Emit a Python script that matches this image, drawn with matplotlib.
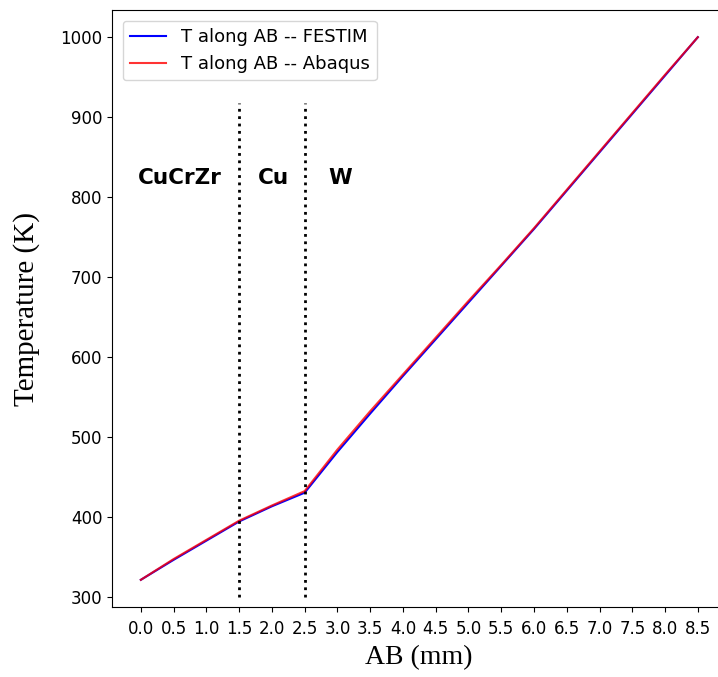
import numpy as np
import matplotlib
matplotlib.use('Agg')
import matplotlib.pyplot as plt

# position along AB (mm)
ab = [0.0, 0.5, 1.0, 1.5, 2.0, 2.5, 3.0, 3.5, 4.0, 4.5, 5.0, 5.5, 6.0, 6.5, 7.0, 7.5, 8.0, 8.5]
t_festim = [321, 346, 370, 394, 413, 430, 481, 529, 576, 622, 668, 714, 760, 808, 856, 904, 952, 1000]
t_abaqus = [321, 347, 371, 395, 414, 432, 484, 532, 578, 624, 670, 715, 761, 809, 857, 905, 953, 1000]
interfaces = [1.5, 2.5]
materials = ["CuCrZr", "Cu", "W"]
material_x = [0.6, 2.03, 3.05]
xticks = np.arange(0, 8.51, 0.5)

fig = plt.figure(figsize=(7.18, 6.77), dpi=100)
ax = fig.add_axes([112/718, 70/677, 614/718, 597/677])
ax.spines['right'].set_visible(False)  # falls outside the crop in the original

ax.plot(ab, t_festim, color='b', lw=1.5, label='T along AB -- FESTIM')
ax.plot(ab, t_abaqus, color='r', lw=1.5, alpha=0.8, label='T along AB -- Abaqus')
ax.vlines(interfaces, 300, 918, colors='k', linestyles=':', lw=2)

for name, xm in zip(materials, material_x):
    ax.text(xm, 824, name, ha='center', va='center', fontsize=15.5, fontweight='bold')

ax.set_xticks(xticks)
ax.set_xticklabels(["%.1f" % v for v in xticks])
ax.tick_params(labelsize=12)
ax.tick_params(axis='x', pad=6)
ax.set_xlim(-0.44, 8.93)
ax.set_ylim(287, 1034)
ax.set_xlabel('AB (mm)', family='Liberation Serif', fontsize=20)
ax.set_ylabel('Temperature (K)', family='Liberation Serif', fontsize=21)
ax.xaxis.set_label_coords(0.5, -0.064)
ax.yaxis.set_label_coords(-0.117, 0.5)
ax.legend(loc='upper left', fontsize=13, borderaxespad=0.6)

fig.savefig('out.png', dpi=100)
